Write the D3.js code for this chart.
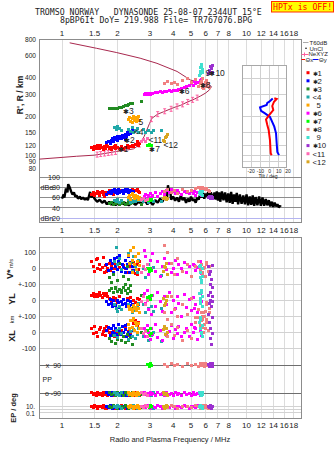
<!DOCTYPE html>
<html>
<head>
<meta charset="utf-8">
<script src="https://cdn.jsdelivr.net/npm/d3@7/dist/d3.min.js"></script>
<style>
  body { margin: 0; background: #fff; }
  svg { display: block; }
  text { font-family: "Liberation Sans", Arial, sans-serif; fill: #222; }
  .mono { font-family: "DejaVu Sans Mono", "Liberation Mono", monospace; white-space: pre; }
  .pre { white-space: pre; }
</style>
</head>
<body>
<svg id="ionogram" width="335" height="451"></svg>
<script>
// axis ticks
const freqTicks = [1, 1.5, 2, 3, 4, 5, 6, 7, 8, 10, 12, 14, 16, 18];
const rangeTicks = [800, 600, 400, 300, 200, 150, 120, 100, 90, 80];
const ampTicks = [100, 80, 60, 40];
const noiseTick = 20;
const tiltTicks = [-20, -10, 0, 10, 20];
const epTicks = [10, 1, 0.1];

const echoNames = ["✱1", "✱2", "✱3", "<4", " 5", "✱6", "✱7", "✱8", " 9", "✱10", "<11", "<12"];
const echoColors = ["#ff0000", "#0000ff", "#228b22", "#20a8a8", "#ffa500", "#ff00ff",
                    "#00ff00", "#f08080", "#40e0d0", "#9b30d0", "#ff69b4", "#daa520"];
// where each echo tag sits on the R' plot: [MHz, km]
const labelAt = [[2.0, 113], [2.17, 132], [2.14, 222], [2.45, 153], [2.6, 184], [4.29, 318],
                 [2.97, 112], [5.57, 353], [5.99, 435], [6.29, 435], [2.94, 132], [3.55, 121]];

// echoes: [MHz, R' km, dBe, V* m/s, YL km, XL km, PP deg, EP deg]
const echo1 = [
  [1.45,115,66,40,30,20,-88,12],[1.48,112,70,10,40,-10,-100,4],[1.5,118,64,-20,25,35,-92,25],
  [1.53,114,68,55,35,0,-106,8],[1.56,117,71,0,20,-25,-88,2],[1.6,113,65,25,45,15,-100,15],
  [1.62,119,69,-10,30,30,-92,12],[1.65,115,72,5,15,-15,-106,4],[1.68,112,66,65,38,5,-88,25],
  [1.7,117,63,-25,28,25,-100,8],[1.73,114,70,15,42,-20,-92,2],[1.76,118,67,-5,22,10,-106,15],
  [1.8,113,73,30,10,-5,-88,12],[1.83,116,68,-15,5,20,-100,4],[1.86,112,71,10,-10,-10,-92,25],
  [1.9,115,66,-30,15,5,-106,8],[1.93,118,74,0,-5,-25,-88,2],[1.96,113,69,20,8,15,-100,15],
  [2.0,116,72,-10,-15,0,-92,12],[2.05,114,70,5,20,-15,-106,4],[2.1,117,73,-20,-10,10,-88,25],
  [2.15,113,68,15,5,-5,-100,8],[2.2,116,71,-5,-20,20,-92,2],[2.25,119,74,25,10,-20,-106,15],
  [2.3,115,70,-25,-5,5,-88,12],[2.35,118,72,10,15,-10,-100,4],[2.4,121,75,-15,-25,30,-92,25],
  [2.45,117,71,35,0,55,-106,8],[2.5,122,73,-35,-15,70,-88,2],[2.55,126,76,20,10,40,-100,15],
  [2.6,120,72,-10,-30,60,-92,12],[2.63,124,70,40,5,25,-106,4],[2.58,128,74,-40,-20,45,-88,25],
  [1.55,120,67,60,35,-30,-100,8],[1.75,121,69,-20,40,35,-92,2],[1.95,120,71,5,-25,-30,-106,15]
];
const echo2 = [
  [1.75,127,66,20,-10,10,-88,12],[1.78,130,70,-15,-30,30,-100,4],[1.82,125,72,45,5,-20,-92,25],
  [1.85,132,68,0,-20,20,-106,8],[1.88,136,74,30,-40,0,-88,2],[1.9,129,71,-25,-5,40,-100,15],
  [1.93,138,76,60,-25,-10,-92,12],[1.96,133,69,10,-35,25,-106,4],[2.0,140,73,-10,0,-25,-88,25],
  [2.03,135,75,40,-15,50,-100,8],[2.06,142,70,80,-45,5,-92,2],[2.1,137,72,-20,-10,-15,-106,15],
  [2.13,144,74,25,-30,35,-88,12],[2.16,139,68,5,5,-5,-100,4],[2.2,146,71,50,-20,15,-92,25],
  [2.23,141,73,-5,-40,-30,-106,8],[2.26,150,76,20,-5,45,-88,2],[2.3,145,70,70,-25,0,-100,15],
  [2.33,153,72,-30,-35,20,-92,12],[2.36,148,74,35,-10,-20,-106,4],[2.4,156,69,10,-30,30,-88,25],
  [2.43,151,71,-15,-45,10,-100,8],[2.0,131,67,65,-5,-15,-92,2],[2.2,134,75,-25,-20,40,-106,15]
];
const echo3 = [
  [1.8,232,48,-60,60,-40,-88,12],[1.85,233,50,-90,70,-60,-100,4],[1.9,231,47,-40,50,-20,-92,25],
  [1.95,234,49,-120,75,-70,-106,8],[2.0,232,51,-80,55,-45,-88,2],[2.05,235,46,30,65,-10,-100,15],
  [2.1,237,48,-140,45,-55,-92,12],[2.15,240,50,-50,80,-30,-106,4],[2.2,244,47,-100,60,-65,-88,25],
  [2.25,246,49,10,40,-15,-100,8],[2.3,250,52,-70,70,-50,-92,2],[2.35,253,48,-110,55,-35,-106,15],
  [2.4,256,50,40,-50,-75,-88,12],[2.7,263,47,-30,30,-5,-100,4]
];
const echo4 = [
  [1.93,165,55,40,-30,-20,-88,12],[1.97,160,52,130,-50,10,-100,4],[2.0,168,57,20,-70,-35,-92,25],
  [2.05,162,50,60,-40,20,-106,8],[2.1,158,54,-10,-60,-10,-88,2],[2.3,160,56,90,-25,-45,-100,15],
  [2.36,155,51,30,-55,5,-92,12],[2.4,165,53,-20,-75,-25,-106,4],[2.45,150,55,70,-35,15,-88,25],
  [2.5,158,52,10,-65,-40,-100,8],[2.55,162,57,-30,-45,-15,-92,2],[2.6,152,54,50,-20,25,-106,15],
  [2.78,160,53,0,-30,-30,-88,12],[2.85,150,56,-60,-80,10,-100,4],[2.95,156,51,25,-50,-50,-92,25],
  [3.05,152,55,-15,-40,-20,-106,8],[3.15,158,53,5,-70,0,-88,2],[3.45,157,52,-45,-55,-60,-100,15]
];
const echo5 = [
  [2.3,190,60,80,-40,50,-88,12],[2.33,198,64,30,-60,20,-100,4],[2.36,185,57,110,-50,70,-92,25],
  [2.4,195,66,50,-70,30,-106,8],[2.43,202,62,130,-35,85,-88,2],[2.46,188,58,20,-55,10,-100,15],
  [2.5,196,65,70,-45,60,-92,12],[2.53,183,60,-10,-65,40,-106,4],[2.56,192,63,40,-30,0,-88,25],
  [2.6,200,56,90,-50,55,-100,8],[2.63,187,61,15,-75,25,-92,2],[2.4,182,67,-30,-60,75,-106,15]
];
const echo6 = [
  [2.8,300,62,110,40,20,-88,12],[2.85,305,66,70,-20,-30,-100,4],[2.9,298,59,20,60,40,-92,25],
  [2.95,303,64,-40,-60,0,-106,8],[3.0,300,68,50,10,-45,-88,2],[3.05,306,61,0,-90,25,-100,15],
  [3.1,302,65,90,30,-15,-92,12],[3.2,310,70,-20,-40,50,-106,4],[3.3,307,63,40,50,-35,-88,25],
  [3.4,313,67,-50,-10,10,-100,8],[3.5,310,72,10,-70,-50,-92,2],[3.6,316,66,60,20,30,-106,15],
  [3.7,313,74,-10,-30,-20,-88,12],[3.8,318,69,30,45,5,-100,4],[3.9,315,76,-30,-80,40,-92,25],
  [4.0,320,71,0,0,-40,-106,8],[4.1,318,68,50,-50,15,-88,2],[4.2,323,73,-40,25,-10,-100,15],
  [4.3,328,70,20,-20,35,-92,12],[4.45,332,66,-5,-100,-30,-106,4],[4.6,338,72,35,35,0,-88,25],
  [4.75,345,69,-25,-45,20,-100,8],[4.9,352,67,10,5,-25,-92,2],[5.0,360,71,-50,-65,45,-106,15],
  [5.15,348,68,25,15,-5,-88,12],[5.3,365,65,-15,-30,25,-100,4],[5.45,372,70,5,-75,-45,-92,25],
  [5.6,380,66,40,40,10,-106,8],[5.7,390,64,-35,-10,-20,-88,2],[5.2,375,72,15,-55,30,-100,15]
];
const echo7 = [
  [2.92,120,55,-5,15,10,92,12],[2.97,122,57,-20,25,-20,80,4],
  [3.02,119,54,0,5,20,100,25],[3.07,121,56,-15,30,-10,86,8]
];
const echo8 = [
  [3.6,365,72,140,-80,20,92,12],[3.75,378,75,100,-120,-30,80,4],[3.9,360,70,30,20,50,100,25],
  [4.05,372,73,-40,-60,-20,86,8],[4.2,358,68,60,-100,30,92,2],[4.5,380,76,-20,-30,-50,80,15],
  [4.8,395,71,20,-90,10,100,12],[5.0,372,74,-50,10,-40,86,4],[5.3,390,78,10,-110,60,92,25],
  [5.5,345,80,40,-60,90,80,8],[5.6,360,77,-10,-20,40,100,2],[5.7,375,79,20,-80,70,86,15],
  [5.8,340,76,-30,-40,100,92,12],[5.9,355,78,5,-100,50,80,4],[6.0,370,75,-50,-70,20,100,25],
  [6.1,345,77,25,-30,80,86,8],[6.2,360,74,-20,-90,10,92,2],[6.3,335,72,10,-55,120,80,15],
  [5.75,395,80,-40,-120,30,100,12],[6.05,385,76,35,-15,60,86,4],[5.85,330,78,-5,-75,-5,92,25]
];
const echo9 = [
  [5.55,420,70,10,40,60,-88,12],[5.6,450,66,-30,10,20,-100,4],[5.65,480,72,-60,-20,80,-92,25],
  [5.7,505,68,-90,50,-10,-106,8],[5.75,440,65,0,-40,40,-88,2],[5.8,465,71,-50,25,-30,-100,15],
  [5.62,430,67,15,-10,90,-92,12],[5.68,495,69,-75,60,0,-106,4]
];
const echo10 = [
  [6.25,430,60,10,30,110,92,12],[6.3,460,62,-40,-20,60,80,4],[6.35,490,58,-100,45,-40,100,25],
  [6.4,445,61,-20,0,20,86,8],[6.45,475,63,-70,-40,-75,92,2],[6.5,500,59,15,20,90,80,15],
  [6.55,440,60,-120,-10,-10,100,12]
];
const echo11 = [
  [2.68,130,56,-30,-10,20,-88,12],[2.75,134,58,10,20,-10,-100,4],
  [2.82,128,54,-10,-30,5,-92,25],[2.9,137,57,20,0,-25,-106,8]
];
const echo12 = [
  [3.55,132,58,-20,10,15,-88,12],[3.62,138,60,5,-20,-15,-100,4],[3.68,142,57,30,-5,25,-92,25],
  [3.75,146,59,-40,25,-5,-106,8],[3.6,128,61,10,-35,35,-100,2]
];

// echo amplitude over the whole sweep: [MHz, dBe]
const ampTrace = [
  [1.0,58],[1.02,66],[1.03,60],[1.05,78],[1.07,70],[1.08,86],[1.1,80],[1.12,72],[1.14,66],[1.16,70],
  [1.18,62],[1.2,64],[1.22,58],[1.25,62],[1.27,57],[1.3,60],[1.33,56],[1.36,59],[1.38,55],[1.4,63],
  [1.42,71],[1.44,60],[1.46,66],[1.5,58],[1.55,52],[1.6,56],[1.65,50],[1.7,54],[1.75,47],[1.8,52],
  [1.85,46],[1.9,51],[1.95,45],[2.0,50],[2.05,46],[2.1,52],[2.15,47],[2.2,50],[2.3,45],[2.4,51],
  [2.5,46],[2.6,52],[2.7,48],[2.8,56],[2.9,47],[3.0,53],[3.1,46],[3.2,55],[3.3,50],[3.4,58],
  [3.5,52],[3.6,62],[3.7,55],[3.75,84],[3.8,68],[3.85,78],[3.9,56],[4.0,62],[4.1,54],[4.2,60],
  [4.3,52],[4.4,64],[4.5,55],[4.6,60],[4.7,50],[4.8,58],[4.9,52],[5.0,62],[5.1,54],[5.2,57],
  [5.3,50],[5.4,60],[5.5,56],[5.6,66],[5.7,60],[5.8,70],[5.9,58],[6.0,68],[6.1,62],[6.2,72],
  [6.3,60],[6.4,70],[6.5,64],[6.6,58],[6.7,70],[6.8,56],[6.9,72],[7.0,54],[7.1,70],[7.2,52],
  [7.35,72],[7.5,55],[7.65,70],[7.8,51],[7.95,68],[8.1,50],[8.25,71],[8.4,48],[8.55,66],[8.7,52],
  [8.85,69],[9.0,47],[9.2,66],[9.4,48],[9.6,64],[9.8,47],[10.0,66],[10.2,45],[10.4,62],[10.6,46],
  [10.8,64],[11.0,44],[11.2,61],[11.45,45],[11.7,62],[11.95,44],[12.2,60],[12.45,44],[12.7,57],
  [12.95,45],[13.2,55],[13.45,43],[13.7,52],[13.95,42],[14.2,50],[14.45,43],[14.7,47],[14.95,41],
  [15.2,44],[15.3,42]
];

// plasma frequency profile, bottomside up to the peak then back over the topside: [MHz, km]
const neProfile = [
  [0.75,94],[1.0,97],[1.2,99],[1.5,101],[1.7,104],[1.98,108],[2.2,110],[2.44,113],[2.55,118],
  [2.65,125],[2.78,140],[2.88,158],[2.98,178],[3.07,195],[3.3,210],[3.55,219],[3.8,228],[4.03,236],
  [4.4,246],[4.76,260],[5.2,274],[5.62,290],[6.0,306],[6.3,324],[6.45,342],[6.3,354],[5.6,366],
  [4.97,386],[4.2,450],[3.27,520],[2.65,570],[1.98,630],[1.54,680],[1.1,750]
];
// profile points with error bars
const neMarks = [
  [1.55,102],[1.62,103],[1.7,104],[1.78,105],[1.86,106],[1.95,107],[2.62,122],[3.05,192],
  [3.3,210],[3.6,221],[3.9,231],[4.2,241],[4.5,250],[4.8,261],[5.1,271],[5.4,282]
];
// tilt profiles: [deg, km]
const tiltX = [[5.1,279],[7.7,275],[4.8,262],[2.9,243],[4.0,226],[-0.3,207],[-3.9,191],
               [-2.5,173],[-1,158],[0.4,132],[1.2,104],[2.3,101]];
const tiltY = [[3.4,278],[-0.3,262],[-2.5,257],[-3.2,247],[-10.4,237],[-9.3,223],[-5,213],
               [0.4,200],[5.1,168],[7,149],[7.7,125],[8.4,107],[10.2,101]];

const echoSets = [echo1, echo2, echo3, echo4, echo5, echo6, echo7, echo8, echo9, echo10, echo11, echo12];

const svg = d3.select("#ionogram");

const L = 39.5, R = 301.5;
const topY0 = 39.5, topY1 = 222.5, botY0 = 237.5, botY1 = 418.5;

const x = d3.scaleLog().domain([0.753, 19.9]).range([39.3, 301.7]);
const yR = d3.scaleLog().domain([100, 800]).range([155.7, 39.2]);
const yDb = d3.scaleLinear().domain([20, 100]).range([218.2, 177]);
const yV = d3.scaleLinear().domain([-100, 100]).range([284, 252]);
const yYL = d3.scaleLinear().domain([-100, 100]).range([316, 284]);
const yXL = d3.scaleLinear().domain([-100, 100]).range([348, 316]);
const yPP = d3.scaleLinear().domain([-90, 90]).range([393, 365]);
const yEP = d3.scaleLog().domain([0.1, 10]).range([412.7, 406.7]);
const xTilt = d3.scaleLinear().domain([-30, 20]).range([242, 288]);

const px = v => Math.round(v - 0.5) + 0.5;

// echo names with a smaller heavy asterisk so it sits like the digits
function tagText(sel, name, size) {
  const t = name.trim();
  if (t.startsWith("✱")) {
    sel.append("tspan").attr("font-size", size * 0.78).text("✱");
    sel.append("tspan").attr("font-size", size).text(t.slice(1));
  } else {
    sel.append("tspan").attr("font-size", size)
      .attr("dx", name.startsWith(" ") ? size * 0.5 : 0).text(t);
  }
}

const defs = svg.append("defs");
defs.append("clipPath").attr("id", "clipTop").append("rect")
  .attr("x", L).attr("y", topY0).attr("width", R - L).attr("height", topY1 - topY0);
defs.append("clipPath").attr("id", "clipBot").append("rect")
  .attr("x", L).attr("y", botY0).attr("width", R - L).attr("height", botY1 - botY0);

// ---- grids ----
const grid = svg.append("g");
[[topY0, topY1], [botY0, botY1]].forEach(([a, b]) => {
  grid.append("g").selectAll("line").data(freqTicks).join("line")
    .attr("x1", d => px(x(d))).attr("x2", d => px(x(d)))
    .attr("y1", a).attr("y2", b)
    .attr("stroke", "#dcdcdc");
});
grid.append("g").selectAll("line").data(ampTicks).join("line")
  .attr("x1", L).attr("x2", R)
  .attr("y1", d => px(yDb(d))).attr("y2", d => px(yDb(d)))
  .attr("stroke", "#8c8c8c");
grid.append("line").attr("x1", L).attr("x2", R)
  .attr("y1", px(yDb(noiseTick))).attr("y2", px(yDb(noiseTick)))
  .attr("stroke", "#b4b4f0");

const motionLines = [yV(100), yV(0), yV(-100), yYL(0), yYL(-100), yXL(0), yXL(-100)];
grid.append("g").selectAll("line").data(motionLines).join("line")
  .attr("x1", L).attr("x2", R).attr("y1", d => px(d)).attr("y2", d => px(d))
  .attr("stroke", "#d2d2d2");
grid.append("g").selectAll("line").data([90, -90]).join("line")
  .attr("x1", L).attr("x2", R).attr("y1", d => px(yPP(d))).attr("y2", d => px(yPP(d)))
  .attr("stroke", "#6e6e6e");
grid.append("g").selectAll("line").data(epTicks).join("line")
  .attr("x1", L).attr("x2", R).attr("y1", d => px(yEP(d))).attr("y2", d => px(yEP(d)))
  .attr("stroke", "#d2d2d2");

// panel frames
[[topY0, topY1], [botY0, botY1]].forEach(([a, b]) => {
  svg.append("rect").attr("x", L).attr("y", a).attr("width", R - L).attr("height", b - a)
    .attr("fill", "none").attr("stroke", "#8c8c8c");
});

// ---- frequency tick labels ----
[36, 233, 427.5].forEach(yb => {
  svg.append("g").selectAll("text").data(freqTicks).join("text")
    .attr("x", d => x(d)).attr("y", yb)
    .attr("text-anchor", "middle").attr("font-size", 8)
    .text(d => d);
});

// R' ticks
svg.append("g").selectAll("text").data(rangeTicks).join("text")
  .attr("x", 36).attr("y", d => yR(d) + 2.4)
  .attr("text-anchor", "end").attr("font-size", 6.6)
  .text(d => d);

// amplitude ticks, drawn inside the frame
svg.append("g").selectAll("text").data(ampTicks.concat([noiseTick])).join("text")
  .attr("x", 60).attr("y", d => yDb(d) + 2.6)
  .attr("text-anchor", "end").attr("font-size", 7.2)
  .text(d => d);
svg.append("text").attr("x", 40.5).attr("y", yDb(80) + 2.6).attr("font-size", 7.2).text("dBe");
svg.append("text").attr("x", 40.5).attr("y", yDb(noiseTick) + 2.6).attr("font-size", 7.2).text("dBn");

// motion ticks
const motionTicks = [[yV, 100, "100"], [yV, 0, "0"], [yV, -100, "+-100"], [yYL, 0, "0"],
                     [yYL, -100, "+-100"], [yXL, 0, "0"], [yXL, -100, "-100"]];
svg.append("g").selectAll("text").data(motionTicks).join("text")
  .attr("x", 36).attr("y", d => d[0](d[1]) + 2.5)
  .attr("text-anchor", "end").attr("font-size", 7)
  .text(d => d[2]);
svg.append("text").attr("x", 61).attr("y", yPP(90) + 2.5).attr("text-anchor", "end")
  .attr("font-size", 7).attr("class", "pre").text("x  90");
svg.append("text").attr("x", 61).attr("y", yPP(-90) + 2.5).attr("text-anchor", "end")
  .attr("font-size", 7).attr("class", "pre").text("o -90");
svg.append("text").attr("x", 42.5).attr("y", 382).attr("font-size", 7).text("PP");
svg.append("text").attr("x", 35).attr("y", yEP(10) + 2.5).attr("text-anchor", "end")
  .attr("font-size", 6.5).text("10.");
svg.append("text").attr("x", 35).attr("y", yEP(0.1) + 3).attr("text-anchor", "end")
  .attr("font-size", 6.5).text("0.1");

// axis titles
svg.append("text").attr("transform", "translate(23,95) rotate(-90)")
  .attr("text-anchor", "middle").attr("font-size", 8.5).attr("font-weight", "bold")
  .text("R', R / km");
const vt = svg.append("text").attr("transform", "translate(12.5,279) rotate(-90)");
vt.append("tspan").attr("font-size", 9).attr("font-weight", "bold").text("V*");
vt.append("tspan").attr("font-size", 5.5).attr("dx", 1.5).text("m/s");
svg.append("text").attr("transform", "translate(15,299) rotate(-90)")
  .attr("text-anchor", "middle").attr("font-size", 9).attr("font-weight", "bold").text("YL");
svg.append("text").attr("transform", "translate(14,319.5) rotate(-90)")
  .attr("text-anchor", "middle").attr("font-size", 6).text("km");
svg.append("text").attr("transform", "translate(14.5,336) rotate(-90)")
  .attr("text-anchor", "middle").attr("font-size", 9).attr("font-weight", "bold").text("XL");
svg.append("text").attr("transform", "translate(16,408) rotate(-90)")
  .attr("text-anchor", "middle").attr("font-size", 7.5).attr("font-weight", "bold").text("EP / deg");
svg.append("text").attr("x", 170).attr("y", 442).attr("text-anchor", "middle")
  .attr("font-size", 7.5).text("Radio and Plasma Frequency / MHz");

// ---- top panel: profile, echoes, tags ----
const topG = svg.append("g").attr("clip-path", "url(#clipTop)");
topG.append("path").datum(neProfile)
  .attr("d", d3.line().x(d => x(d[0])).y(d => yR(d[1])))
  .attr("fill", "none").attr("stroke", "#a8284e").attr("stroke-width", 1);
const mk = topG.append("g").attr("stroke", "#ff5fa0").attr("stroke-width", 1).attr("fill", "none");
mk.selectAll("path").data(neMarks).join("path")
  .attr("d", d => {
    const cx = x(d[0]), cy = yR(d[1]);
    return `M${cx - 1.5},${cy - 2.5}H${cx + 1.5}M${cx},${cy - 2.5}V${cy + 2.5}M${cx - 1.5},${cy + 2.5}H${cx + 1.5}`;
  });

// amplitude trace
topG.append("path").datum(ampTrace)
  .attr("d", d3.line().x(d => x(d[0])).y(d => yDb(d[1])))
  .attr("fill", "none").attr("stroke", "#000").attr("stroke-width", 2.4)
  .attr("stroke-linejoin", "bevel");

const S = 3;
function squares(g, data, fy, color) {
  g.append("g").attr("fill", color).selectAll("rect").data(data).join("rect")
    .attr("x", d => Math.round(x(d[0]) - S / 2))
    .attr("y", d => Math.round(fy(d) - S / 2))
    .attr("width", S).attr("height", S);
}

const botG = svg.append("g").attr("clip-path", "url(#clipBot)");
echoSets.forEach((set, i) => {
  const c = echoColors[i];
  squares(topG, set, d => yR(d[1]), c);
  squares(topG, set, d => yDb(d[2]), c);
  squares(botG, set, d => yV(d[3]), c);
  squares(botG, set, d => yYL(d[4]), c);
  squares(botG, set, d => yXL(d[5]), c);
  squares(botG, set, d => yPP(d[6]), c);
  squares(botG, set, d => yEP(d[7]), c);
});

// echo tags
svg.append("g").selectAll("text").data(labelAt).join("text")
  .attr("x", d => x(d[0])).attr("y", d => yR(d[1]) + 3)
  .attr("fill", "#000")
  .each(function (d, i) { tagText(d3.select(this), echoNames[i].trim(), 8.5); });

// ---- tilt inset ----
const inset = svg.append("g");
inset.append("rect").attr("x", 242.5).attr("y", 65.5).attr("width", 44).attr("height", 102)
  .attr("fill", "#fff").attr("stroke", "#a8a8a8");
inset.append("g").selectAll("line").data(tiltTicks.filter(t => xTilt(t) < 286)).join("line")
  .attr("x1", d => px(xTilt(d))).attr("x2", d => px(xTilt(d)))
  .attr("y1", 66).attr("y2", 167).attr("stroke", "#d0d0d0");
inset.append("g").selectAll("line").data(rangeTicks.filter(r => yR(r) > 66 && yR(r) < 167)).join("line")
  .attr("x1", 243).attr("x2", 286).attr("y1", d => px(yR(d))).attr("y2", d => px(yR(d)))
  .attr("stroke", "#d0d0d0");
const tiltLine = d3.line().x(d => xTilt(d[0])).y(d => yR(d[1]));
inset.append("path").datum(tiltY).attr("d", tiltLine)
  .attr("fill", "none").attr("stroke", "#0000ff").attr("stroke-width", 2);
inset.append("path").datum(tiltX).attr("d", tiltLine)
  .attr("fill", "none").attr("stroke", "#ff0000").attr("stroke-width", 2);
inset.append("g").selectAll("text").data(tiltTicks).join("text")
  .attr("x", d => xTilt(d)).attr("y", 172.5).attr("text-anchor", "middle")
  .attr("font-size", 5).text(d => d);
inset.append("text").attr("x", 268).attr("y", 177.5).attr("text-anchor", "middle")
  .attr("font-size", 5).text("Tilt / deg");

// ---- legend ----
const lg = svg.append("g");
lg.append("line").attr("x1", 303).attr("x2", 308.5).attr("y1", 42.5).attr("y2", 42.5).attr("stroke", "#aaa");
lg.append("text").attr("x", 309.5).attr("y", 44.7).attr("font-size", 6).text("T60dB");
lg.append("circle").attr("cx", 306).attr("cy", 48.3).attr("r", 0.8).attr("fill", "#000");
lg.append("text").attr("x", 309.5).attr("y", 50.5).attr("font-size", 6).text("UnCl");
lg.append("line").attr("x1", 301.5).attr("x2", 308.5).attr("y1", 54.5).attr("y2", 54.5).attr("stroke", "#ff5fa0");
lg.append("path").attr("d", "M304.5,52.5V56.5").attr("stroke", "#ff5fa0");
lg.append("text").attr("x", 308.5).attr("y", 56.3).attr("font-size", 6).text("NeXYZ");
lg.append("line").attr("x1", 301.5).attr("x2", 305).attr("y1", 59.5).attr("y2", 59.5).attr("stroke", "#ff0000");
lg.append("text").attr("x", 305.5).attr("y", 61.7).attr("font-size", 6).text("Θx");
lg.append("line").attr("x1", 313).attr("x2", 318.5).attr("y1", 59.5).attr("y2", 59.5).attr("stroke", "#0000ff");
lg.append("text").attr("x", 319).attr("y", 61.7).attr("font-size", 6).text("Θy");

const legendRows = lg.append("g").selectAll("g").data(echoNames).join("g")
  .attr("transform", (d, i) => `translate(0,${72.7 + i * 8.1})`);
legendRows.append("rect").attr("x", 306.5).attr("y", -1.5).attr("width", 3).attr("height", 3)
  .attr("fill", (d, i) => echoColors[i]);
legendRows.append("text").attr("x", 312.5).attr("y", 2.8).attr("fill", "#000")
  .each(function (d) { tagText(d3.select(this), d, 7.8); });

// ---- header ----
svg.append("text").attr("class", "mono").attr("x", 35).attr("y", 14.5)
  .attr("font-size", 8.2).attr("fill", "#000")
  .text("TROMSO NORWAY   DYNASONDE 25-08-07 2344UT 15°E");
svg.append("text").attr("class", "mono").attr("x", 60).attr("y", 23)
  .attr("font-size", 8.2).attr("fill", "#000")
  .text("8pBP6It DoY= 219.988 File= TR767076.BPG");
svg.append("rect").attr("x", 271.5).attr("y", 1.5).attr("width", 62).attr("height", 10.5)
  .attr("fill", "#ffff00").attr("stroke", "#ff3000");
svg.append("text").attr("class", "mono").attr("x", 273).attr("y", 9.8)
  .attr("font-size", 8.2).style("fill", "#ff0000")
  .text("HPTx is OFF!");
</script>
</body>
</html>
